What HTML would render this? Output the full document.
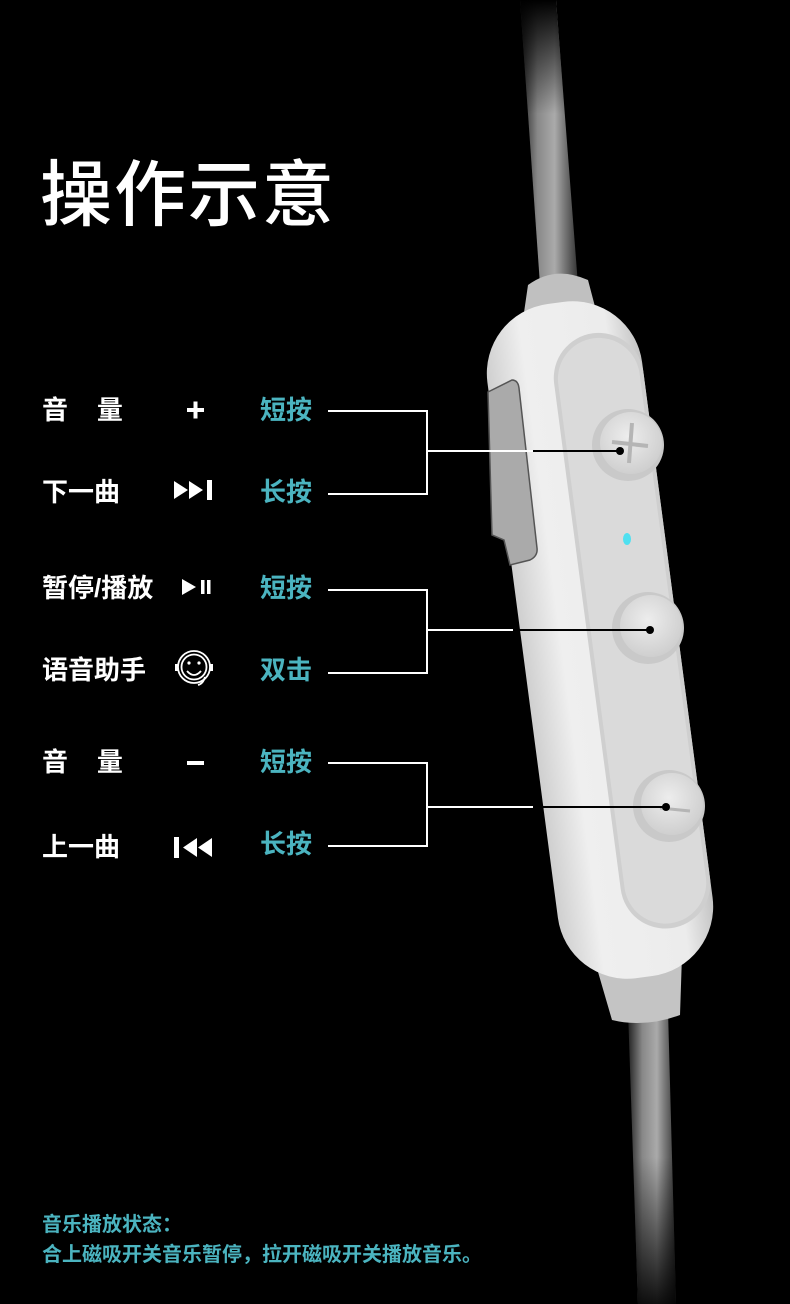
<!DOCTYPE html>
<html><head><meta charset="utf-8"><style>
html,body{margin:0;padding:0;background:#000;}
body{width:790px;height:1304px;position:relative;overflow:hidden;font-family:"Liberation Sans","Noto Sans CJK SC",sans-serif;}
.t{position:absolute;white-space:nowrap;line-height:1;}
.w{color:#fff;font-size:26px;font-weight:bold;}
.b{color:#4bb4c0;font-size:26px;font-weight:bold;}
</style></head><body>
<svg width="790" height="1304" style="position:absolute;left:0;top:0">
<defs>
<linearGradient id="cab" x1="0" x2="1" y1="0" y2="0">
<stop offset="0" stop-color="#222"/><stop offset="0.3" stop-color="#888"/><stop offset="0.6" stop-color="#aaa"/><stop offset="1" stop-color="#333"/>
</linearGradient>
<linearGradient id="cabT" x1="0" y1="0" x2="0" y2="1">
<stop offset="0" stop-color="#000" stop-opacity="1"/><stop offset="0.4" stop-color="#000" stop-opacity="0"/>
</linearGradient>
<linearGradient id="cabB" x1="0" y1="0" x2="0" y2="1">
<stop offset="0.5" stop-color="#000" stop-opacity="0"/><stop offset="1" stop-color="#000" stop-opacity="0.9"/>
</linearGradient>
<linearGradient id="body" x1="0" x2="1" y1="0" y2="0">
<stop offset="0" stop-color="#cfcfcf"/><stop offset="0.25" stop-color="#efefef"/><stop offset="0.8" stop-color="#ececec"/><stop offset="1" stop-color="#c4c4c4"/>
</linearGradient>
<radialGradient id="btn" cx="0.45" cy="0.4" r="0.6">
<stop offset="0" stop-color="#ededed"/><stop offset="1" stop-color="#cfcfcf"/>
</radialGradient>
</defs>
<polygon points="520,0 556,0 578,285 540,285" fill="url(#cab)"/>
<polygon points="520,0 556,0 578,285 540,285" fill="url(#cabT)"/>
<polygon points="628,1010 668,1010 676,1304 638,1304" fill="url(#cab)"/>
<polygon points="628,1010 668,1010 676,1304 638,1304" fill="url(#cabB)"/>
<path d="M528,285 Q555,265 588,280 L598,318 L520,340 Z" fill="#c0c0c0"/>
<path d="M596,965 L682,955 L680,1015 Q645,1028 612,1020 Z" fill="#c4c4c4"/>
<g transform="rotate(-7.5 600 640)">
<rect x="522" y="300" width="156" height="680" rx="70" fill="url(#body)"/>
<rect x="588" y="335" width="90" height="600" rx="45" fill="#cfcfcf"/>
<rect x="592" y="340" width="82" height="590" rx="41" fill="#dadada"/>
</g>
<path d="M488,392 L512,380 Q518,380 519,388 L537,548 Q538,556 530,560 L510,565 L504,540 L492,535 L491,500 Z" fill="#aaa" stroke="#555" stroke-width="1.5"/>
<circle cx="628" cy="445" r="36" fill="#c9c9c9"/><circle cx="631" cy="443" r="31" fill="url(#btn)"/>
<path d="M632,423 L629,463 M612,442 L648,446" stroke="#b5b5b5" stroke-width="4"/>
<circle cx="648" cy="628" r="36" fill="#c9c9c9"/><circle cx="651" cy="626" r="31" fill="url(#btn)"/>
<circle cx="669" cy="806" r="36" fill="#c9c9c9"/><circle cx="672" cy="804" r="31" fill="url(#btn)"/>
<path d="M660,808 L690,811" stroke="#b5b5b5" stroke-width="3"/>
<ellipse cx="627" cy="539" rx="4" ry="6" fill="#4fe0f0"/>
<g stroke="#fff" stroke-width="2" fill="none">
<path d="M328,411 H427 V494 H328"/><path d="M427,451 H533"/>
<path d="M328,590 H427 V673 H328"/><path d="M427,630 H513"/>
<path d="M328,763 H427 V846 H328"/><path d="M427,807 H533"/>
</g>
<g stroke="#000" stroke-width="2">
<path d="M533,451 H620"/><path d="M513,630 H650"/><path d="M533,807 H666"/>
</g>
<circle cx="620" cy="451" r="4" fill="#000"/><circle cx="650" cy="630" r="4" fill="#000"/><circle cx="666" cy="807" r="4" fill="#000"/>
<g fill="#fff">
<rect x="187" y="408" width="17" height="4"/><rect x="193.5" y="401.5" width="4" height="17"/>
<polygon points="174,481 188,490 174,499"/><polygon points="189,481 203,490 189,499"/><rect x="207" y="480" width="5" height="20"/>
<polygon points="182,579 196,587 182,595"/><rect x="201" y="580" width="3.5" height="14"/><rect x="207" y="580" width="3.5" height="14"/>
<rect x="187" y="761" width="17" height="4"/>
<rect x="174" y="837" width="5" height="21"/><polygon points="197,838 183,847.5 197,857"/><polygon points="212,838 198,847.5 212,857"/>
</g>
<g stroke="#fff" stroke-width="1.8" fill="none">
<circle cx="194" cy="667" r="16"/><circle cx="194" cy="667" r="12.5"/>
<path d="M187,671 Q194,679 201,671"/>
<path d="M205,677 Q203,684 198,685"/>
</g>
<circle cx="189" cy="663" r="1.6" fill="#fff"/><circle cx="199" cy="663" r="1.6" fill="#fff"/>
<rect x="175" y="664" width="3" height="7" fill="#fff"/><rect x="210" y="664" width="3" height="7" fill="#fff"/>
</svg>
<div class="t" style="left:40px;top:160px;font-size:72px;font-weight:500;color:#fff;letter-spacing:2px;">操作示意</div>
<div class="t w" style="left:42px;top:397px;">音&nbsp;&nbsp;&nbsp;&nbsp;量</div>
<div class="t w" style="left:42px;top:479px;">下一曲</div>
<div class="t w" style="left:42px;top:575px;">暂停/播放</div>
<div class="t w" style="left:42px;top:657px;">语音助手</div>
<div class="t w" style="left:42px;top:749px;">音&nbsp;&nbsp;&nbsp;&nbsp;量</div>
<div class="t w" style="left:42px;top:834px;">上一曲</div>
<div class="t b" style="left:260px;top:397px;">短按</div>
<div class="t b" style="left:260px;top:479px;">长按</div>
<div class="t b" style="left:260px;top:575px;">短按</div>
<div class="t b" style="left:260px;top:657px;">双击</div>
<div class="t b" style="left:260px;top:749px;">短按</div>
<div class="t b" style="left:260px;top:831px;">长按</div>
<div class="t" style="left:42px;top:1215px;font-size:20px;font-weight:bold;color:#4bb4c0;">音乐播放状态：</div>
<div class="t" style="left:42px;top:1245px;font-size:20px;font-weight:bold;color:#4bb4c0;">合上磁吸开关音乐暂停，拉开磁吸开关播放音乐。</div>
</body></html>
